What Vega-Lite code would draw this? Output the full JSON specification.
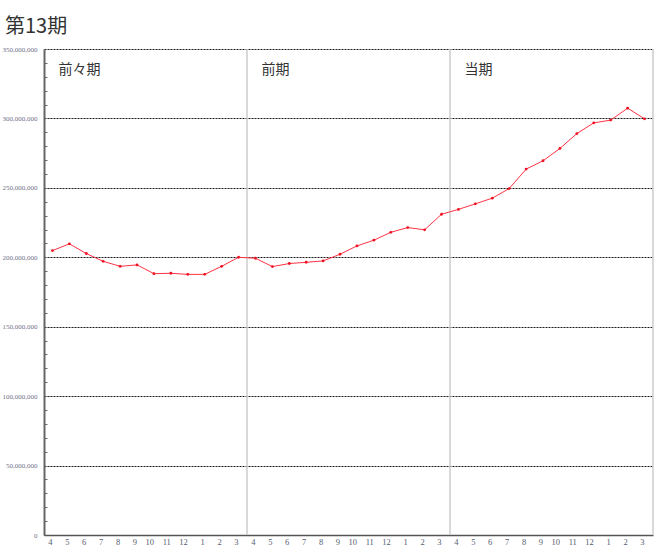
{
  "$schema": "https://vega.github.io/schema/vega-lite/v6.json",
  "width": 609,
  "height": 486,
  "autosize": {"type": "none"},
  "padding": {"left": 44, "top": 49, "right": 2, "bottom": 13},
  "background": "white",
  "title": {"text": "第13期", "anchor": "start", "frame": "group", "dx": -39, "offset": -8, "baseline": "alphabetic", "font": "Noto Sans CJK JP", "fontSize": 20, "fontWeight": "normal", "color": "#333333"},
  "config": {"view": {"stroke": null}},
  "data": {"values": [
    {"idx": 1, "month": 4, "period": "前々期", "sales": 204800000},
    {"idx": 2, "month": 5, "period": "前々期", "sales": 209700000},
    {"idx": 3, "month": 6, "period": "前々期", "sales": 202700000},
    {"idx": 4, "month": 7, "period": "前々期", "sales": 197100000},
    {"idx": 5, "month": 8, "period": "前々期", "sales": 193500000},
    {"idx": 6, "month": 9, "period": "前々期", "sales": 194500000},
    {"idx": 7, "month": 10, "period": "前々期", "sales": 188200000},
    {"idx": 8, "month": 11, "period": "前々期", "sales": 188500000},
    {"idx": 9, "month": 12, "period": "前々期", "sales": 187700000},
    {"idx": 10, "month": 1, "period": "前々期", "sales": 187700000},
    {"idx": 11, "month": 2, "period": "前々期", "sales": 193500000},
    {"idx": 12, "month": 3, "period": "前々期", "sales": 200000000},
    {"idx": 13, "month": 4, "period": "前期", "sales": 199300000},
    {"idx": 14, "month": 5, "period": "前期", "sales": 193300000},
    {"idx": 15, "month": 6, "period": "前期", "sales": 195500000},
    {"idx": 16, "month": 7, "period": "前期", "sales": 196400000},
    {"idx": 17, "month": 8, "period": "前期", "sales": 197400000},
    {"idx": 18, "month": 9, "period": "前期", "sales": 202200000},
    {"idx": 19, "month": 10, "period": "前期", "sales": 208200000},
    {"idx": 20, "month": 11, "period": "前期", "sales": 212300000},
    {"idx": 21, "month": 12, "period": "前期", "sales": 218000000},
    {"idx": 22, "month": 1, "period": "前期", "sales": 221400000},
    {"idx": 23, "month": 2, "period": "前期", "sales": 219800000},
    {"idx": 24, "month": 3, "period": "前期", "sales": 231000000},
    {"idx": 25, "month": 4, "period": "当期", "sales": 234500000},
    {"idx": 26, "month": 5, "period": "当期", "sales": 238500000},
    {"idx": 27, "month": 6, "period": "当期", "sales": 242600000},
    {"idx": 28, "month": 7, "period": "当期", "sales": 249500000},
    {"idx": 29, "month": 8, "period": "当期", "sales": 263500000},
    {"idx": 30, "month": 9, "period": "当期", "sales": 269500000},
    {"idx": 31, "month": 10, "period": "当期", "sales": 278400000},
    {"idx": 32, "month": 11, "period": "当期", "sales": 289100000},
    {"idx": 33, "month": 12, "period": "当期", "sales": 296800000},
    {"idx": 34, "month": 1, "period": "当期", "sales": 298800000},
    {"idx": 35, "month": 2, "period": "当期", "sales": 307400000},
    {"idx": 36, "month": 3, "period": "当期", "sales": 299700000}
  ]},
  "layer": [
    {
      "transform": [{"filter": "datum.idx == 13 || datum.idx == 25"}],
      "mark": {"type": "rule", "color": "#cccccc", "strokeWidth": 1.5},
      "encoding": {
        "x": {"field": "idx", "type": "ordinal", "bandPosition": 0},
        "y": {"datum": 0, "type": "quantitative"},
        "y2": {"datum": 350000000}
      }
    },
    {
      "transform": [{"filter": "datum.idx == 36"}],
      "mark": {"type": "rule", "color": "#cccccc", "strokeWidth": 1.5},
      "encoding": {
        "x": {"field": "idx", "type": "ordinal", "bandPosition": 1},
        "y": {"datum": 0, "type": "quantitative"},
        "y2": {"datum": 350000000}
      }
    },
    {
      "mark": {"type": "line", "color": "#ff3344", "strokeWidth": 1, "point": {"filled": true, "size": 8, "color": "#ee1122"}},
      "encoding": {
        "x": {"field": "idx", "type": "ordinal", "scale": {"type": "band", "paddingInner": 0, "paddingOuter": 0}, "axis": {"title": null, "labelExpr": "(datum.value + 2) % 12 + 1", "labelAngle": 0, "ticks": false, "labelPadding": 6, "labelFont": "Liberation Serif", "labelFontSize": 8.5, "labelColor": "#556070", "domainColor": "#555555", "domainWidth": 1.5, "grid": false}},
        "y": {"field": "sales", "type": "quantitative", "scale": {"domain": [0, 350000000], "nice": false}, "axis": {"title": null, "orient": "left", "tickCount": 40, "labelOverlap": false, "values": [0,10000000,20000000,30000000,40000000,50000000,60000000,70000000,80000000,90000000,100000000,110000000,120000000,130000000,140000000,150000000,160000000,170000000,180000000,190000000,200000000,210000000,220000000,230000000,240000000,250000000,260000000,270000000,280000000,290000000,300000000,310000000,320000000,330000000,340000000,350000000], "labelExpr": "datum.value % 50000000 == 0 ? format(datum.value, ',d') : ''", "ticks": true, "tickSize": -3, "tickColor": "#666666", "tickWidth": 1, "tickOpacity": {"condition": {"test": "datum.value % 50000000 == 0", "value": 0}, "value": 1}, "labelPadding": 10, "labelFont": "Liberation Serif", "labelFontSize": 7, "labelColor": "#707088", "domainColor": "#666666", "domainWidth": 2, "grid": true, "gridColor": "#000000", "gridDash": [2, 1], "gridWidth": 1, "gridOpacity": {"condition": {"test": "datum.value % 50000000 == 0", "value": 0.9}, "value": 0}}}
      }
    },
    {
      "transform": [{"filter": "datum.idx == 1 || datum.idx == 13 || datum.idx == 25"}],
      "mark": {"type": "text", "align": "left", "baseline": "middle", "dx": 6, "font": "Noto Sans CJK JP", "fontSize": 14, "color": "#333333"},
      "encoding": {
        "x": {"field": "idx", "type": "ordinal"},
        "y": {"datum": 335000000, "type": "quantitative"},
        "text": {"field": "period"}
      }
    }
  ]
}
